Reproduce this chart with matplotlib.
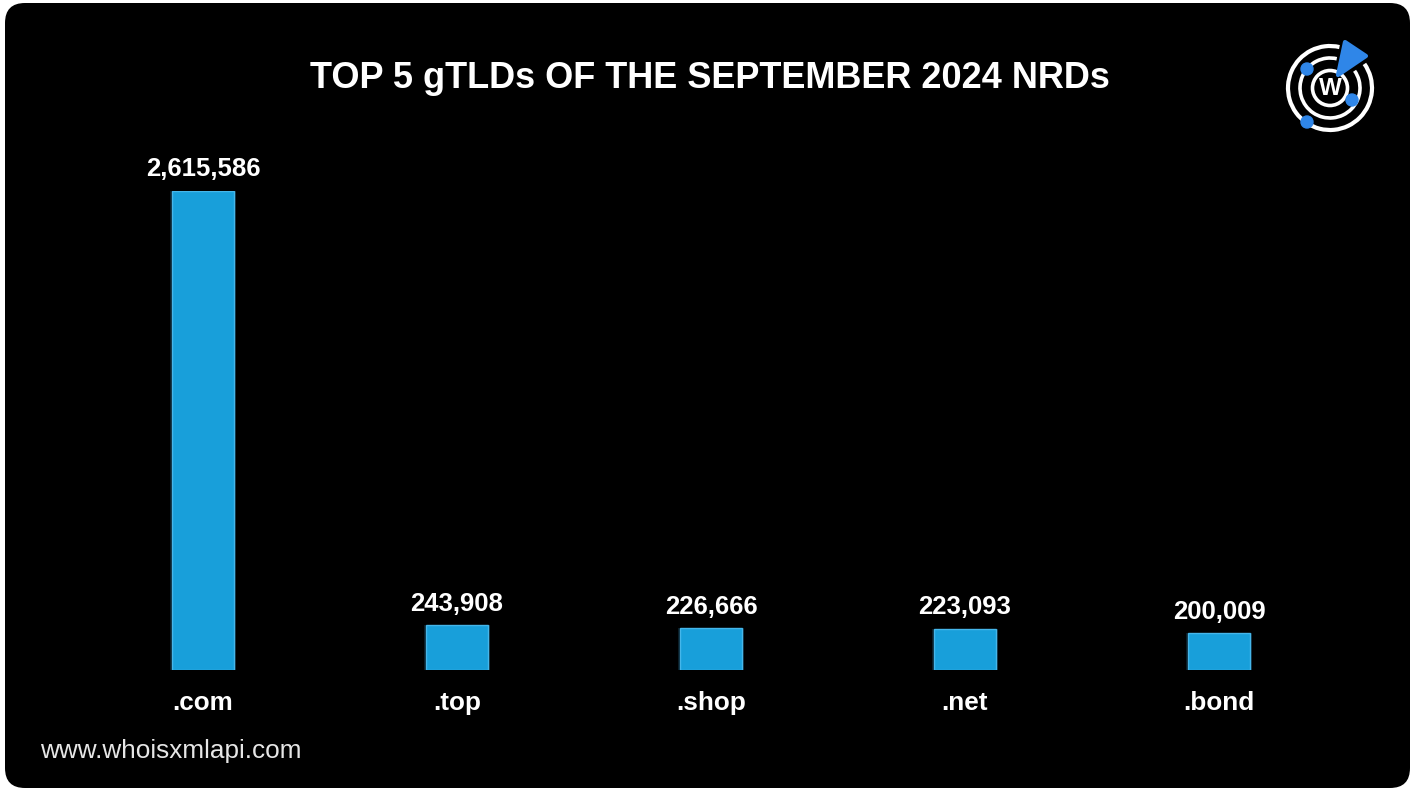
#!/usr/bin/env python3
"""Top 5 gTLDs of the September 2024 NRDs - bar chart recreation."""

import matplotlib
matplotlib.use("Agg")
import matplotlib.pyplot as plt
from matplotlib.patches import FancyBboxPatch, Circle, Arc, Polygon

TLDS = [".com", ".top", ".shop", ".net", ".bond"]
COUNTS = [2615586, 243908, 226666, 223093, 200009]
TITLE = "TOP 5 gTLDs OF THE SEPTEMBER 2024 NRDs"
FOOTER = "www.whoisxmlapi.com"

W, H = 1415, 791
BAR_COLOR = "#189fda"
GLOW_COLOR = "#3aa9e0"
LOGO_BLUE = "#2f86e8"
FONT = ["Liberation Sans", "DejaVu Sans"]


def draw_logo(fig):
    # small logo axes in pixel units, top-right corner
    lx, ly, size = 1280, 791 - 140, 100
    ax = fig.add_axes([lx / W, ly / H, size / W, size / H])
    ax.set_xlim(0, size)
    ax.set_ylim(0, size)
    ax.set_aspect("equal")
    ax.axis("off")
    cx, cy = 50, 52
    ax.add_patch(Arc((cx, cy), 84, 84, theta1=77, theta2=35 + 360, color="white", lw=3))
    ax.add_patch(Arc((cx, cy), 60, 60, theta1=77, theta2=35 + 360, color="white", lw=2.6))
    ax.add_patch(Circle((cx, cy), 17.5, fill=False, ec="white", lw=2.6))
    ax.text(cx, cy - 0.5, "W", color="white", fontsize=17.5, fontweight="bold",
            ha="center", va="center", family=FONT)
    for px, py in [(27, 71), (72, 40), (27, 18)]:
        ax.add_patch(Circle((px, py), 6, color=LOGO_BLUE, zorder=3))
    ax.add_patch(Polygon([(58, 65), (65, 98), (86, 84)], closed=True, color=LOGO_BLUE,
                         joinstyle="round", lw=3, zorder=3))


def main():
    fig = plt.figure(figsize=(W / 100, H / 100), dpi=100, facecolor="white")

    # black rounded card
    bg = fig.add_axes([0, 0, 1, 1])
    bg.set_xlim(0, W)
    bg.set_ylim(0, H)
    bg.axis("off")
    bg.add_patch(FancyBboxPatch((5 + 20, 3 + 20), W - 10 - 40, H - 6 - 40,
                                boxstyle="round,pad=20", fc="black", ec="none"))

    # bar axes: baseline at 670 px from top, tallest bar 479 px tall
    base = H - 670
    ax = fig.add_axes([0, base / H, 1, 479 / H])
    ax.set_facecolor("none")
    ax.axis("off")
    xs = list(range(len(TLDS)))
    ax.set_xlim(-203 / 254, (W - 203) / 254)
    ax.set_ylim(0, max(COUNTS))

    # faint halo + bars with a slightly lighter rim
    ax.bar(xs, COUNTS, width=0.262, color=GLOW_COLOR, alpha=0.18, zorder=1)
    ax.bar(xs, COUNTS, width=0.244, color=BAR_COLOR, edgecolor="#45b6ea",
           linewidth=1, zorder=2)

    for x, v, name in zip(xs, COUNTS, TLDS):
        ax.annotate(f"{v:,}", (x, v), textcoords="offset points", xytext=(0, 7),
                    ha="center", va="bottom", color="white", fontsize=18.5,
                    fontweight="bold", family=FONT, annotation_clip=False)
        ax.annotate(name, (x, 0), textcoords="offset points", xytext=(0, -24),
                    ha="center", va="center", color="white", fontsize=18.8,
                    fontweight="bold", family=FONT, annotation_clip=False)

    fig.text(710 / W, 1 - 79 / H, TITLE, color="white", fontsize=26,
             fontweight="bold", ha="center", va="center", family=FONT)
    fig.text(40 / W, 1 - 751 / H, FOOTER, color="#e6e6e6", fontsize=18.8,
             ha="left", va="center", family=FONT)

    draw_logo(fig)

    fig.savefig("out.png", dpi=100, facecolor="white")
    plt.close(fig)


if __name__ == "__main__":
    main()
